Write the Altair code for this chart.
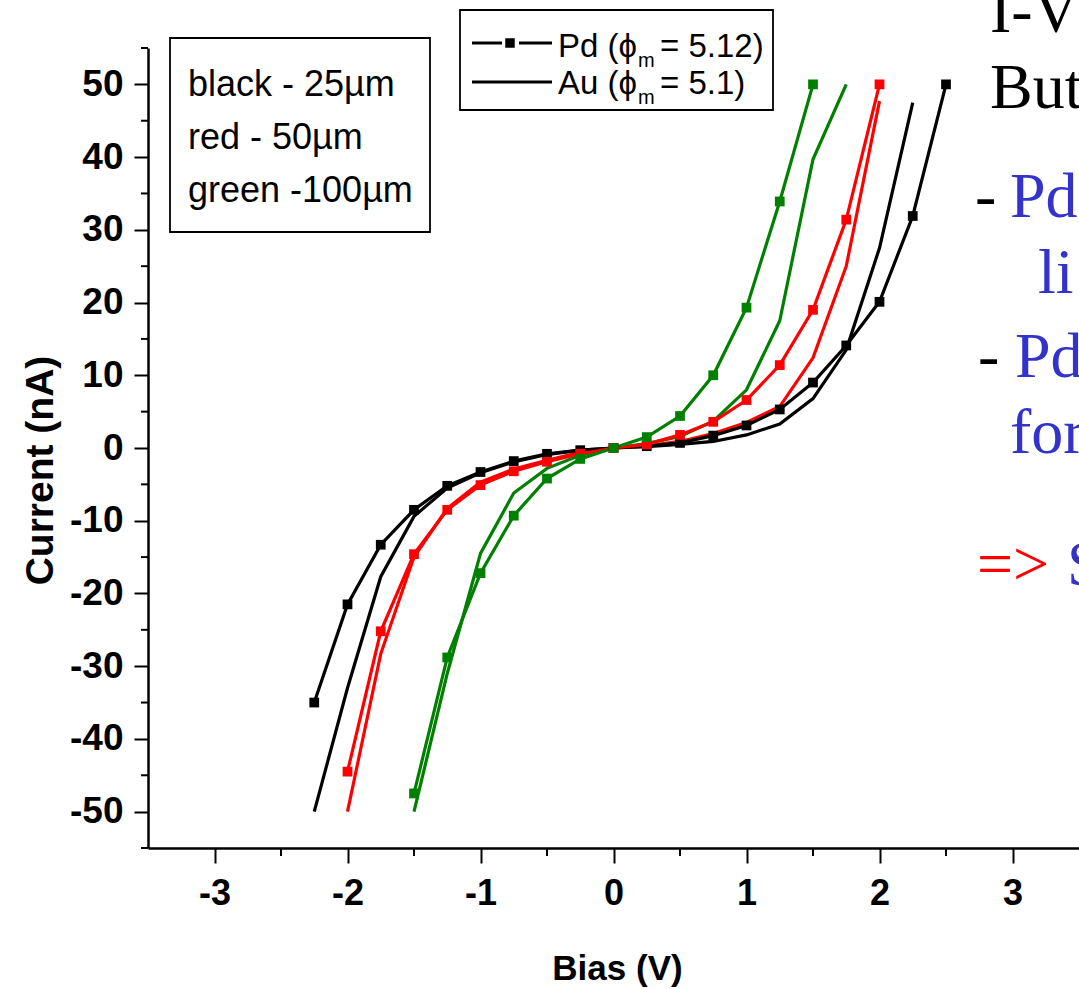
import altair as alt
import pandas as pd

# ---------------- data ----------------
V_BLACK_PD = [-2.25, -2.0, -1.75, -1.5, -1.25, -1.0, -0.75, -0.5, -0.25, 0.0,
              0.25, 0.5, 0.75, 1.0, 1.25, 1.5, 1.75, 2.0, 2.25, 2.5]
I_BLACK_PD = [-35.0, -21.5, -13.3, -8.5, -5.2, -3.3, -1.8, -0.8, -0.3, 0.0,
              0.25, 0.7, 1.7, 3.1, 5.3, 9.0, 14.1, 20.1, 31.9, 50.0]

V_BLACK_AU = [-2.25, -2.0, -1.75, -1.5, -1.25, -1.0, -0.75, -0.5, -0.25, 0.0,
              0.25, 0.5, 0.75, 1.0, 1.25, 1.5, 1.75, 2.0, 2.25]
I_BLACK_AU = [-50.0, -33.0, -17.7, -9.4, -5.5, -3.4, -1.9, -0.9, -0.3, 0.0,
              0.2, 0.5, 0.9, 1.8, 3.3, 6.8, 13.5, 27.5, 47.5]

V_RED_PD = [-2.0, -1.75, -1.5, -1.25, -1.0, -0.75, -0.5, -0.25, 0.0,
            0.25, 0.5, 0.75, 1.0, 1.25, 1.5, 1.75, 2.0]
I_RED_PD = [-44.5, -25.2, -14.6, -8.5, -5.1, -3.2, -1.9, -0.8, 0.0,
            0.5, 1.8, 3.6, 6.6, 11.4, 19.0, 31.4, 50.0]

V_RED_AU = [-2.0, -1.75, -1.5, -1.25, -1.0, -0.75, -0.5, -0.25, 0.0,
            0.25, 0.5, 0.75, 1.0, 1.25, 1.5, 1.75, 2.0]
I_RED_AU = [-50.0, -28.3, -15.0, -8.3, -4.7, -2.9, -1.7, -0.6, 0.0,
            0.3, 0.9, 2.0, 3.5, 5.7, 12.4, 25.0, 47.7]

V_GREEN_PD = [-1.5, -1.25, -1.0, -0.75, -0.5, -0.25, 0.0,
              0.25, 0.5, 0.75, 1.0, 1.25, 1.5]
I_GREEN_PD = [-47.5, -28.8, -17.2, -9.3, -4.2, -1.5, 0.0,
              1.5, 4.4, 10.0, 19.3, 33.9, 50.0]

V_GREEN_AU = [-1.5, -1.25, -1.0, -0.75, -0.5, -0.25, 0.0,
              0.25, 0.5, 0.75, 1.0, 1.25, 1.5, 1.75]
I_GREEN_AU = [-50.0, -31.0, -14.5, -6.2, -2.8, -1.0, 0.0,
              0.6, 1.6, 3.7, 8.0, 17.5, 39.7, 50.0]

SIZES = ["25", "50", "100"]
SIZE_COLORS = ["#000000", "#ff0000", "#008000"]

X_TICKS = [-3, -2, -1, 0, 1, 2, 3]
X_MINOR = [-2.5, -1.5, -0.5, 0.5, 1.5, 2.5]
Y_TICKS = [-50, -40, -30, -20, -10, 0, 10, 20, 30, 40, 50]
Y_MINOR = [-55, -45, -35, -25, -15, -5, 5, 15, 25, 35, 45, 55]

series = [
    ("Au", "25", V_BLACK_AU, I_BLACK_AU),
    ("Au", "50", V_RED_AU, I_RED_AU),
    ("Au", "100", V_GREEN_AU, I_GREEN_AU),
    ("Pd", "25", V_BLACK_PD, I_BLACK_PD),
    ("Pd", "50", V_RED_PD, I_RED_PD),
    ("Pd", "100", V_GREEN_PD, I_GREEN_PD),
]
rows = []
for metal, size, vs, cs in series:
    for v, c in zip(vs, cs):
        rows.append({"V": v, "I": c, "metal": metal, "size": size,
                     "series": metal + size})
df = pd.DataFrame(rows)
df_pd = df[df.metal == "Pd"]

# ---------------- styling ----------------
SANS = "Liberation Sans, Arial, sans-serif"
SERIF = "Liberation Serif, Times New Roman, serif"
L, T = 148, 48          # plot origin in page pixels
W, H = 931, 800

xscale = alt.Scale(domain=[-3.5, 3.5], nice=False, zero=False)
yscale = alt.Scale(domain=[-55, 55], nice=False, zero=False)

xaxis = alt.Axis(values=X_TICKS, labelExpr="toString(datum.value)",
                 tickSize=15, tickWidth=2, tickColor="black",
                 domainColor="black", domainWidth=2.5, grid=False,
                 labelFont=SANS, labelFontSize=36, labelFontWeight="bold",
                 labelColor="black", labelPadding=13, labelFlush=False,
                 title="Bias (V)", titleFont=SANS, titleFontSize=35,
                 titleFontWeight="bold", titleColor="black",
                 titleX=617 - L, titleY=968 - (T + H),
                 titleAlign="center", titleBaseline="middle")
yaxis = alt.Axis(values=Y_TICKS, labelExpr="toString(datum.value)",
                 tickSize=14, tickWidth=2, tickColor="black",
                 domainColor="black", domainWidth=2.5, grid=False,
                 labelFont=SANS, labelFontSize=37, labelFontWeight="bold",
                 labelColor="black", labelPadding=11, labelFlush=False,
                 title="Current (nA)", titleFont=SANS, titleFontSize=39,
                 titleFontWeight="bold", titleColor="black",
                 titleX=40 - L, titleY=470 - T, titleAngle=270,
                 titleAlign="center", titleBaseline="middle")

X = alt.X("V:Q", scale=xscale, axis=xaxis)
Y = alt.Y("I:Q", scale=yscale, axis=yaxis)
COLOR = alt.Color("size:N", scale=alt.Scale(domain=SIZES, range=SIZE_COLORS),
                  legend=None)

lines = alt.Chart(df).mark_line(strokeWidth=3.2).encode(
    x=X, y=Y, color=COLOR, detail="series:N", order="V:Q")
points = alt.Chart(df_pd).mark_square(size=95, opacity=1).encode(
    x=X, y=Y, color=COLOR)

minor_x = alt.Chart(pd.DataFrame({"V": X_MINOR})).mark_rule(
    color="black", strokeWidth=2).encode(
    x=X, y=alt.value(H), y2=alt.value(H + 8))
minor_y = alt.Chart(pd.DataFrame({"I": Y_MINOR})).mark_rule(
    color="black", strokeWidth=2).encode(
    y=Y, x=alt.value(-7), x2=alt.value(0))

one = pd.DataFrame({"k": [0]})


def box(x1, y1, x2, y2):
    return alt.Chart(one).mark_rect(fill="white", stroke="black",
                                    strokeWidth=1.8).encode(
        x=alt.value(x1 - L), x2=alt.value(x2 - L),
        y=alt.value(y1 - T), y2=alt.value(y2 - T))


def hline(x1, x2, y):
    return alt.Chart(one).mark_rule(color="black", strokeWidth=3).encode(
        x=alt.value(x1 - L), x2=alt.value(x2 - L), y=alt.value(y - T))


def txt(s, x, y, size, color="black", font=SANS, weight="normal",
        align="left"):
    return alt.Chart(one).mark_text(
        text=s, fontSize=size, color=color, font=font, fontWeight=weight,
        align=align, baseline="alphabetic").encode(
        x=alt.value(x - L), y=alt.value(y - T))


BLUE = "#3333cc"
deco = [
    # size legend
    box(170, 38, 430, 232),
    txt("black - 25µm", 188, 96, 36),
    txt("red - 50µm", 188, 149, 36),
    txt("green -100µm", 188, 202, 36),
    # metal legend
    box(460, 10, 773, 110),
    hline(472, 502, 43),
    hline(519, 552, 43),
    alt.Chart(one).mark_square(size=90, color="black", opacity=1).encode(
        x=alt.value(510 - L), y=alt.value(43 - T)),
    hline(472, 552, 82),
    txt("Pd (ϕ", 637, 57, 33, align="right"),
    txt("m", 638, 67, 20),
    txt("= 5.12)", 660, 57, 33),
    txt("Au (ϕ", 637, 94, 33, align="right"),
    txt("m", 638, 104, 20),
    txt("= 5.1)", 660, 94, 33),
    # clipped slide text on the right
    txt("I-V", 990, 32, 64, font=SERIF),
    txt("But", 990, 108, 64, font=SERIF),
    txt("-", 975, 217, 64, font=SERIF),
    txt("Pd", 1010, 217, 64, color=BLUE, font=SERIF),
    txt("li", 1038, 293, 64, color=BLUE, font=SERIF),
    txt("-", 978, 377, 64, font=SERIF),
    txt("Pd", 1015, 377, 64, color=BLUE, font=SERIF),
    txt("for", 1010, 453, 64, color=BLUE, font=SERIF),
    txt("=>", 977, 585, 64, color="#ff0000", font=SERIF),
    txt("S", 1067, 585, 64, color=BLUE, font=SERIF),
]

chart = alt.layer(lines, points, minor_x, minor_y, *deco).properties(
    width=W, height=H,
    autosize=alt.AutoSizeParams(type="none"),
    padding={"left": L, "top": T, "right": 1079 - L - W, "bottom": 989 - T - H},
    background="white",
).configure_view(strokeWidth=0)

chart.save("out.html", embed_options={"renderer": "svg", "actions": False})
